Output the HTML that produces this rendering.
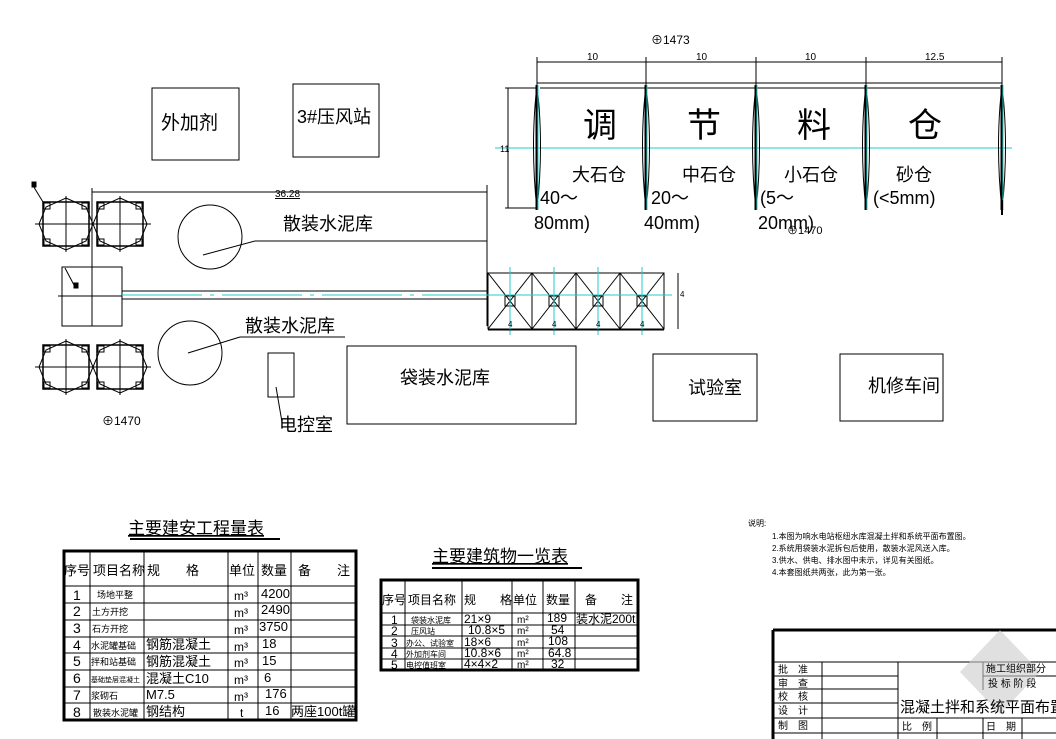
<!DOCTYPE html>
<html><head><meta charset="utf-8"><style>
html,body{margin:0;padding:0;background:#fff}
svg{display:block}
text{font-family:"Liberation Sans","Noto Sans CJK SC",sans-serif;fill:#000}
</style></head><body>
<svg width="1056" height="739" viewBox="0 0 1056 739" xmlns="http://www.w3.org/2000/svg">
<defs>
<g id="silo" fill="none" stroke="#000" stroke-width="1">
  <rect x="0" y="0" width="46" height="44" stroke-width="1.5"/>
  <polygon points="23,-4 43,5 50,22 43,39 23,48 3,39 -4,22 3,5"/>
  <line x1="-8" y1="22" x2="54" y2="22"/><line x1="23" y1="-6" x2="23" y2="50"/>
  <rect x="1" y="1" width="6" height="6"/><rect x="39" y="1" width="6" height="6"/>
  <rect x="1" y="37" width="6" height="6"/><rect x="39" y="37" width="6" height="6"/>
</g>
<g id="lens" fill="none">
  <path d="M0,0 Q-7,60 0,125 Q7,60 0,0Z" stroke="#000" stroke-width="1"/>
  <line x1="0" y1="0" x2="0" y2="125" stroke="#000" stroke-width="3"/>
  <line x1="1" y1="0" x2="1" y2="125" stroke="#2cc" stroke-width="1"/>
</g>
<g id="cell" fill="none" stroke="#000" stroke-width="1">
  <rect x="0" y="0" width="44" height="56"/>
  <line x1="0" y1="0" x2="44" y2="56"/><line x1="44" y1="0" x2="0" y2="56"/>
  <rect x="17" y="23" width="10" height="10"/>
  <line x1="22" y1="-6" x2="22" y2="62" stroke="#2cc"/>
</g>
</defs>

<g fill="none" stroke="#000" stroke-width="1">
<rect x="152" y="88" width="87" height="72"/>
<rect x="293" y="84" width="86" height="73"/>
<rect x="347" y="346" width="229" height="78"/>
<rect x="653" y="354" width="104" height="67"/>
<rect x="840" y="354" width="103" height="67"/>
<rect x="268" y="353" width="26" height="44"/>
<line x1="276" y1="387" x2="282" y2="422"/>
</g>
<text x="161" y="129" font-size="19">外加剂</text>
<text x="297" y="123" font-size="18">3#压风站</text>
<text x="400" y="384" font-size="18">袋装水泥库</text>
<text x="688" y="394" font-size="18">试验室</text>
<text x="868" y="392" font-size="18">机修车间</text>
<text x="279" y="431" font-size="18">电控室</text>

<use href="#silo" x="43" y="202"/><use href="#silo" x="97" y="202"/>
<use href="#silo" x="43" y="345"/><use href="#silo" x="97" y="345"/>
<g fill="none" stroke="#000" stroke-width="1">
<line x1="32" y1="184" x2="43" y2="202"/><rect x="32" y="182" width="4" height="5" fill="#000"/>
<rect x="62" y="267" width="60" height="59"/>
<line x1="92" y1="188" x2="92" y2="326"/>
<line x1="58" y1="296" x2="122" y2="296"/>
<line x1="65" y1="268" x2="74" y2="285"/><rect x="74" y="283" width="4" height="5" fill="#000"/>
<line x1="92" y1="192" x2="487" y2="192"/>
<line x1="487" y1="185" x2="487" y2="326"/>
<line x1="122" y1="291" x2="487" y2="291"/>
<line x1="122" y1="299" x2="487" y2="299"/>
<line x1="122" y1="295" x2="487" y2="295" stroke="#2cc" stroke-dasharray="80,8,4,8"/>
<circle cx="210" cy="237" r="32"/>
<line x1="203" y1="255" x2="255" y2="241"/><line x1="255" y1="241" x2="487" y2="241"/>
<circle cx="190" cy="353" r="32"/>
<line x1="188" y1="353" x2="240" y2="337"/><line x1="240" y1="337" x2="345" y2="337"/>
</g>
<text x="275" y="197" font-size="10" style="text-decoration:underline">36.28</text>
<text x="283" y="230" font-size="18">散装水泥库</text>
<text x="245" y="332" font-size="18">散装水泥库</text>
<text x="102" y="425" font-size="12">⊕1470</text>

<g fill="none" stroke="#000" stroke-width="1">
<line x1="537" y1="62" x2="1002" y2="62"/>
<line x1="537" y1="57" x2="537" y2="86"/><line x1="646" y1="57" x2="646" y2="86"/>
<line x1="756" y1="57" x2="756" y2="86"/><line x1="866" y1="57" x2="866" y2="86"/>
<line x1="1002" y1="57" x2="1002" y2="86"/>
<polyline points="537,86 537,83 1002,83 1002,86"/>
<line x1="540" y1="88" x2="1000" y2="88"/>
<line x1="505" y1="88" x2="536" y2="88"/><line x1="505" y1="208" x2="536" y2="208"/>
<line x1="508" y1="88" x2="508" y2="208"/>
<line x1="495" y1="148" x2="1012" y2="148" stroke="#2cc"/>
</g>
<use href="#lens" x="537" y="85"/><use href="#lens" x="646" y="85"/>
<use href="#lens" x="756" y="85"/><use href="#lens" x="866" y="85"/>
<use href="#lens" x="1002" y="85"/>
<line x1="1002" y1="200" x2="1002" y2="215" stroke="#000" stroke-width="2"/>
<g font-size="10"><text x="587" y="60">10</text><text x="696" y="60">10</text><text x="805" y="60">10</text><text x="925" y="60">12.5</text></g>
<text x="500" y="152" font-size="9">11</text>
<text x="651" y="44" font-size="12">⊕1473</text>
<g font-size="34"><text x="583" y="137">调</text><text x="687" y="137">节</text><text x="797" y="137">料</text><text x="908" y="137">仓</text></g>
<g font-size="18"><text x="572" y="181">大石仓</text><text x="682" y="181">中石仓</text><text x="784" y="181">小石仓</text><text x="896" y="181">砂仓</text>
<text x="540" y="204">40～</text><text x="651" y="204">20～</text><text x="760" y="204">(5～</text><text x="873" y="204">(&lt;5mm)</text>
<text x="534" y="229">80mm)</text><text x="644" y="229">40mm)</text><text x="758" y="229">20mm)</text></g>
<text x="787" y="234" font-size="11">⊕1470</text>

<use href="#cell" x="488" y="273"/><use href="#cell" x="532" y="273"/>
<use href="#cell" x="576" y="273"/><use href="#cell" x="620" y="273"/>
<g fill="none" stroke="#000"><line x1="480" y1="295" x2="672" y2="295" stroke="#2cc"/>
<line x1="488" y1="330" x2="664" y2="330"/><line x1="678" y1="273" x2="678" y2="329"/></g>
<g font-size="8"><text x="508" y="327">4</text><text x="552" y="327">4</text><text x="596" y="327">4</text><text x="640" y="327">4</text><text x="680" y="297">4</text></g>

<text x="128" y="534" font-size="17" style="text-decoration:underline">主要建安工程量表</text>
<line x1="130" y1="539" x2="280" y2="539" stroke="#000" stroke-width="2"/>
<g fill="none" stroke="#000">
<rect x="64" y="551" width="292" height="169" stroke-width="3"/>
<g stroke-width="1">
<line x1="64" y1="586" x2="356" y2="586"/>
<line x1="64" y1="603" x2="356" y2="603"/><line x1="64" y1="620" x2="356" y2="620"/>
<line x1="64" y1="637" x2="356" y2="637"/><line x1="64" y1="653" x2="356" y2="653"/>
<line x1="64" y1="670" x2="356" y2="670"/><line x1="64" y1="687" x2="356" y2="687"/>
<line x1="64" y1="703" x2="356" y2="703"/>
<line x1="90" y1="551" x2="90" y2="720"/><line x1="144" y1="551" x2="144" y2="720"/>
<line x1="228" y1="551" x2="228" y2="720"/><line x1="258" y1="551" x2="258" y2="720"/>
<line x1="291" y1="551" x2="291" y2="720"/>
</g></g>
<g font-size="13"><text x="64" y="575">序号</text><text x="93" y="575">项目名称</text><text x="147" y="575">规　　格</text>
<text x="229" y="575">单位</text><text x="261" y="575">数量</text><text x="298" y="575">备　　注</text></g>
<g font-size="14"><text x="73" y="600">1</text><text x="73" y="616">2</text><text x="73" y="633">3</text><text x="73" y="650">4</text><text x="73" y="666">5</text><text x="73" y="683">6</text><text x="73" y="700">7</text><text x="73" y="717">8</text></g>
<g font-size="9"><text x="97" y="598">场地平整</text><text x="92" y="615" fill="#999">土方开挖</text><text x="92" y="632" fill="#999">石方开挖</text>
<text x="91" y="649">水泥罐基础</text><text x="91" y="665">拌和站基础</text><text x="91" y="682" fill="#999" font-size="7">基础垫层混凝土</text><text x="91" y="699">浆砌石</text><text x="93" y="716">散装水泥罐</text></g>
<g font-size="13"><text x="146" y="649">钢筋混凝土</text><text x="146" y="666">钢筋混凝土</text><text x="146" y="683">混凝土C10</text><text x="146" y="699">M7.5</text><text x="146" y="716">钢结构</text></g>
<g font-size="12"><text x="234" y="600">m³</text><text x="234" y="617">m³</text><text x="234" y="634">m³</text><text x="234" y="651">m³</text><text x="234" y="667">m³</text><text x="234" y="684">m³</text><text x="234" y="701">m³</text><text x="240" y="717">t</text></g>
<g font-size="13"><text x="261" y="598">4200</text><text x="261" y="614">2490</text><text x="259" y="631">3750</text><text x="262" y="648">18</text><text x="262" y="665">15</text><text x="264" y="682">6</text><text x="265" y="698">176</text><text x="265" y="715">16</text><text x="291" y="716">两座100t罐</text></g>

<text x="432" y="562" font-size="17" style="text-decoration:underline">主要建筑物一览表</text>
<line x1="432" y1="568" x2="582" y2="568" stroke="#000" stroke-width="2"/>
<g fill="none" stroke="#000">
<rect x="381" y="580" width="257" height="90" stroke-width="3"/>
<g stroke-width="1">
<line x1="381" y1="613" x2="638" y2="613"/><line x1="381" y1="625" x2="638" y2="625"/>
<line x1="381" y1="636" x2="638" y2="636"/><line x1="381" y1="648" x2="638" y2="648"/>
<line x1="381" y1="659" x2="638" y2="659"/>
<line x1="405" y1="580" x2="405" y2="670"/><line x1="462" y1="580" x2="462" y2="670"/>
<line x1="512" y1="580" x2="512" y2="670"/><line x1="543" y1="580" x2="543" y2="670"/>
<line x1="575" y1="580" x2="575" y2="670"/>
</g></g>
<g font-size="12"><text x="382" y="604">序号</text><text x="408" y="604">项目名称</text><text x="464" y="604">规　　格</text><text x="513" y="604">单位</text><text x="546" y="604">数量</text><text x="585" y="604">备　　注</text></g>
<g font-size="12"><text x="391" y="624">1</text><text x="391" y="635">2</text><text x="391" y="647">3</text><text x="391" y="658">4</text><text x="391" y="669">5</text></g>
<g font-size="8"><text x="411" y="623">袋装水泥库</text><text x="411" y="634">压风站</text><text x="406" y="646">办公、试验室</text><text x="406" y="657">外加剂车间</text><text x="406" y="668">电控值班室</text></g>
<g font-size="12"><text x="464" y="623">21×9</text><text x="468" y="634">10.8×5</text><text x="464" y="646">18×6</text><text x="464" y="657">10.8×6</text><text x="464" y="668">4×4×2</text></g>
<g font-size="10"><text x="517" y="623">m²</text><text x="517" y="634">m²</text><text x="517" y="646">m²</text><text x="517" y="657">m²</text><text x="517" y="668">m²</text></g>
<g font-size="12"><text x="547" y="622">189</text><text x="551" y="634">54</text><text x="548" y="645">108</text><text x="548" y="657">64.8</text><text x="551" y="668">32</text><text x="576" y="623">装水泥200t</text></g>

<g font-size="8"><text x="748" y="526">说明:</text>
<text x="772" y="539">1.本图为响水电站枢纽水库混凝土拌和系统平面布置图。</text>
<text x="772" y="551">2.系统用袋装水泥拆包后使用，散装水泥风送入库。</text>
<text x="772" y="563">3.供水、供电、排水图中未示，详见有关图纸。</text>
<text x="772" y="575">4.本套图纸共两张，此为第一张。</text></g>

<g fill="none" stroke="#000">
<line x1="773" y1="630" x2="1056" y2="630" stroke-width="3"/>
<line x1="773" y1="630" x2="773" y2="739" stroke-width="3"/>
<g stroke-width="1">
<line x1="773" y1="662" x2="1056" y2="662"/>
<line x1="773" y1="676" x2="898" y2="676"/><line x1="983" y1="676" x2="1056" y2="676"/>
<line x1="773" y1="689" x2="898" y2="689"/><line x1="773" y1="703" x2="898" y2="703"/>
<line x1="773" y1="718" x2="1056" y2="718"/><line x1="773" y1="733" x2="1056" y2="733"/>
<line x1="822" y1="662" x2="822" y2="739"/><line x1="898" y1="662" x2="898" y2="739"/>
<line x1="983" y1="662" x2="983" y2="690"/><line x1="983" y1="718" x2="983" y2="739"/>
<line x1="937" y1="718" x2="937" y2="739"/><line x1="1022" y1="718" x2="1022" y2="739"/>
</g></g>
<polygon points="1000,630 1040,672 1000,714 960,672" fill="#ccc" opacity="0.6"/>
<g font-size="10"><text x="778" y="673">批　准</text><text x="778" y="687">审　查</text><text x="778" y="700">校　核</text><text x="778" y="714">设　计</text><text x="778" y="729">制　图</text>
<text x="986" y="672">施工组织部分</text><text x="988" y="687">投 标 阶 段</text>
<text x="902" y="730">比　例</text><text x="986" y="730">日　期</text></g>
<text x="900" y="712" font-size="15">混凝土拌和系统平面布置图</text>
</svg>
</body></html>
